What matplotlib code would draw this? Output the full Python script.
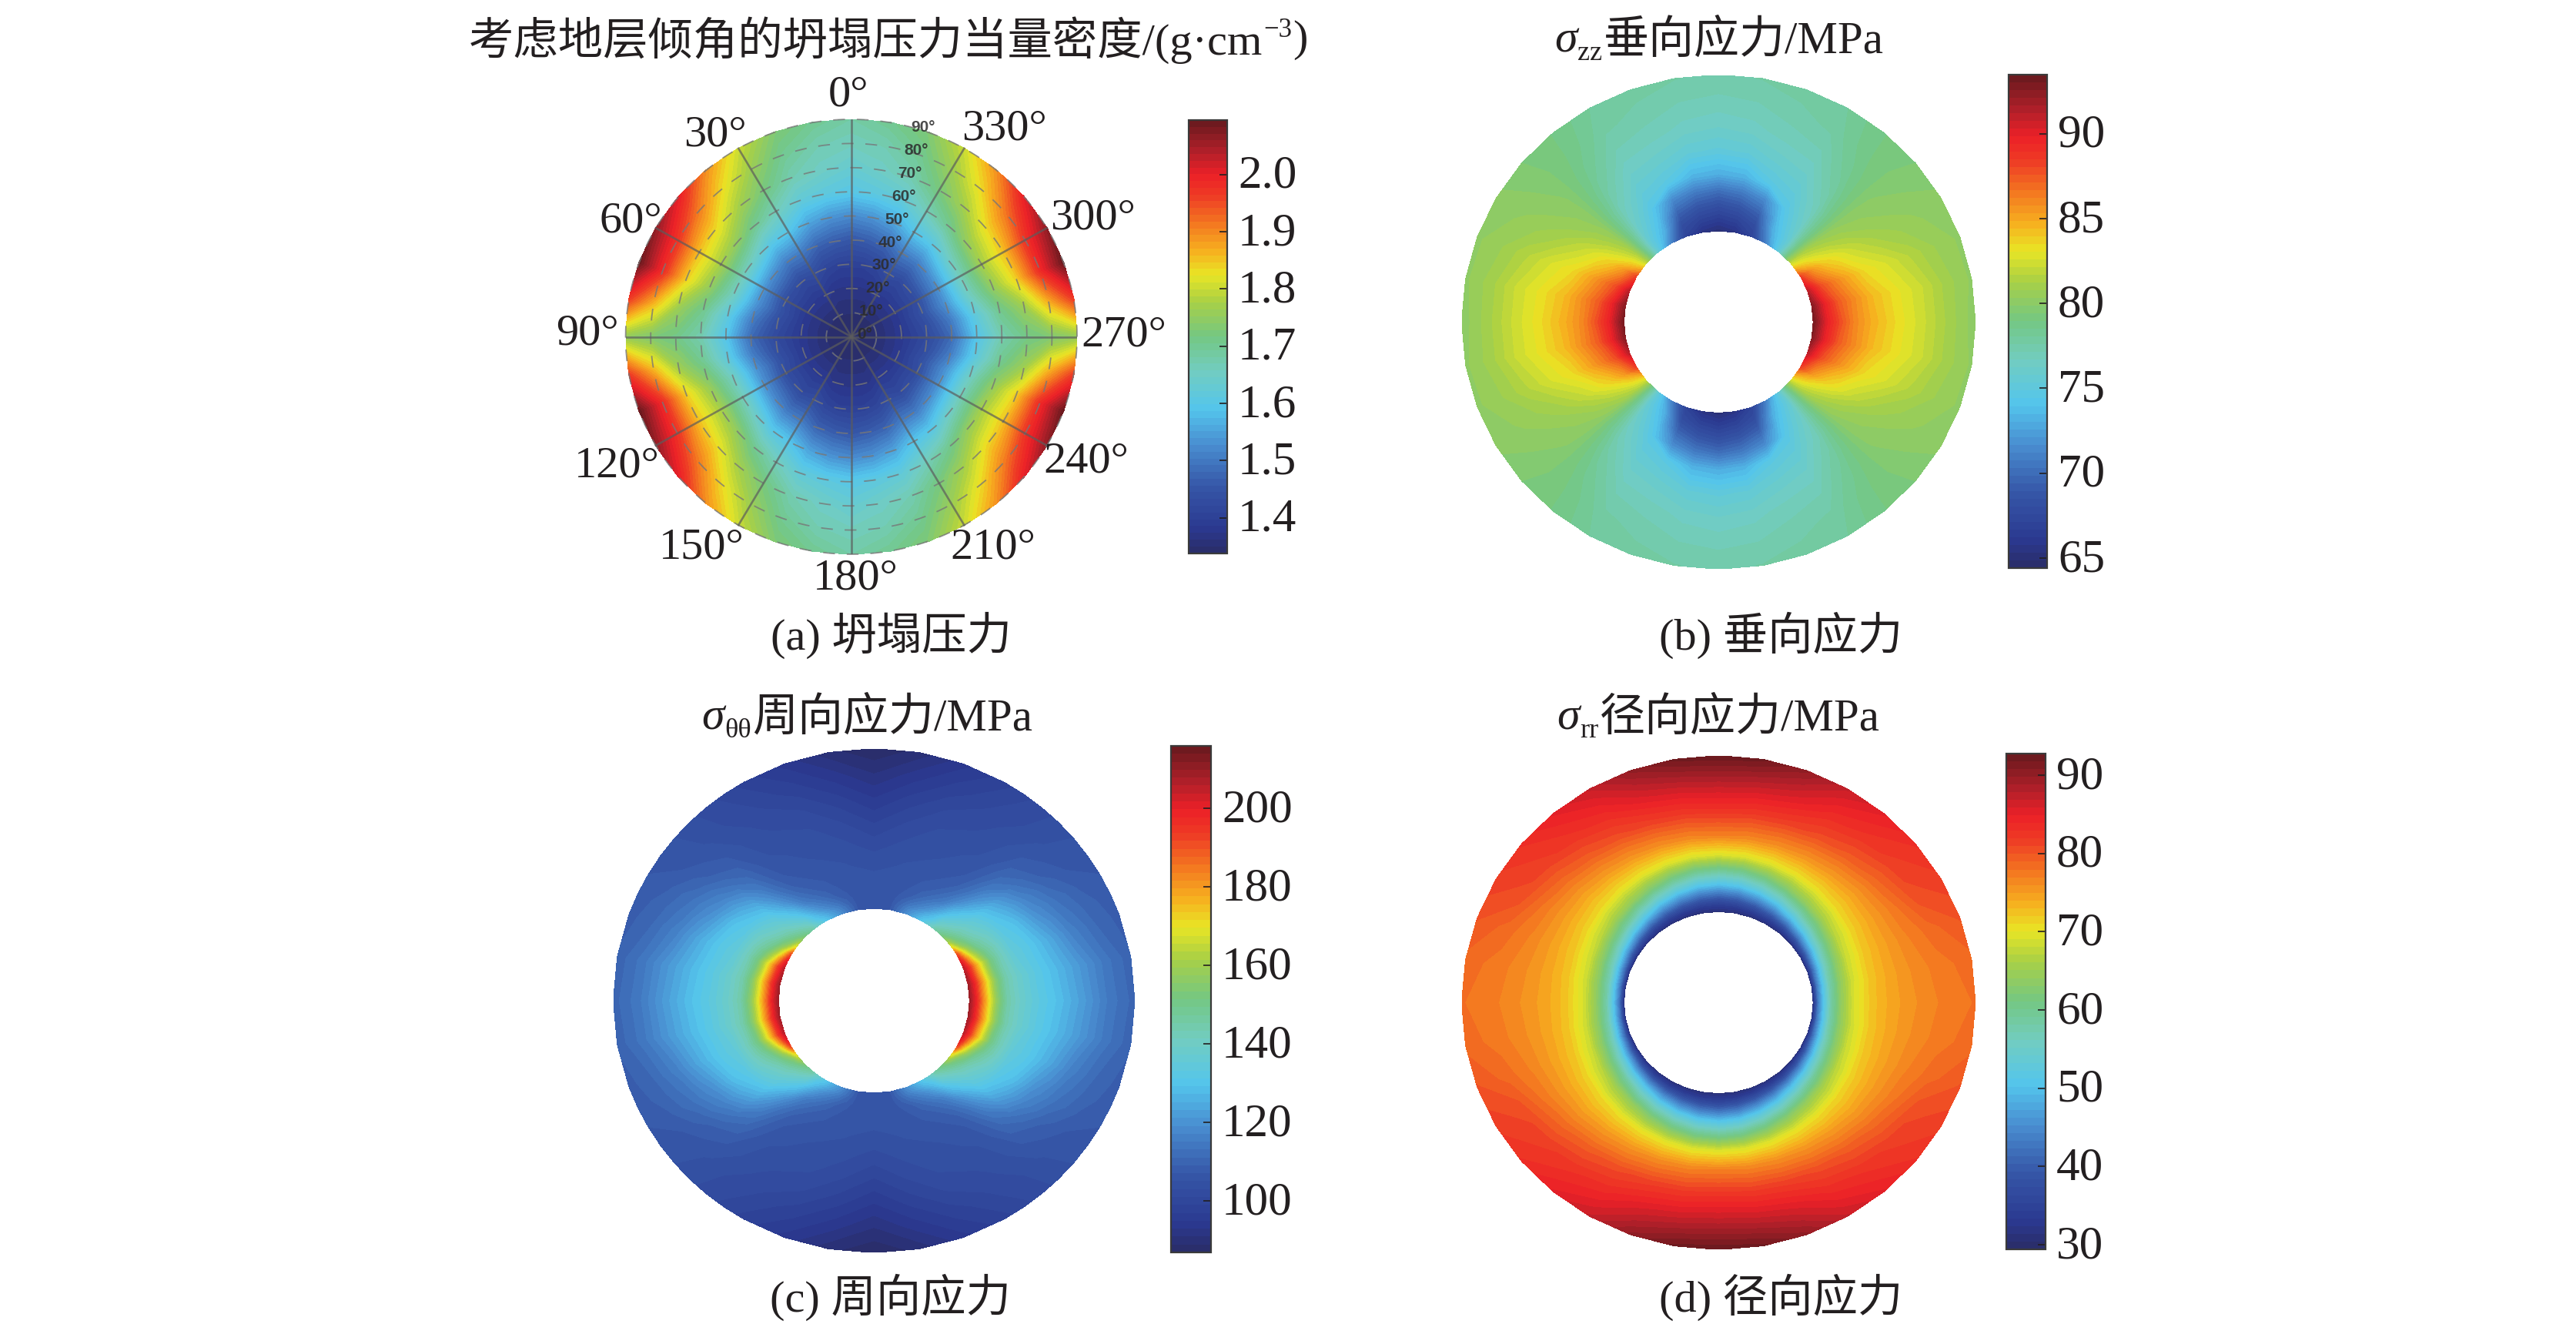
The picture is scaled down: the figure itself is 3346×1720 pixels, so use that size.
import numpy as np
import matplotlib
matplotlib.use("Agg")
import matplotlib.pyplot as plt
from matplotlib.colors import LinearSegmentedColormap
from matplotlib.transforms import ScaledTranslation

W, H = 3346, 1720
FAM = ['Liberation Serif', 'Noto Sans CJK SC', 'DejaVu Sans']
INK = '#231f20'

PHI = [0, 10, 20, 30, 40, 50, 60, 70, 80, 90]   # angle from the vertical axis, degrees
PHI_C = [0, 10, 20, 30, 35, 40, 45, 50, 55, 60, 65, 70, 80, 90]

# (a) collapse pressure equivalent density; columns = inclination 0..90 deg
A_R = [0, 10, 20, 30, 40, 50, 60, 70, 80, 90]
A_V = [
    [1.34, 1.35, 1.37, 1.40, 1.45, 1.52, 1.60, 1.63, 1.66, 1.68],
    [1.34, 1.35, 1.37, 1.40, 1.46, 1.53, 1.61, 1.65, 1.67, 1.70],
    [1.34, 1.35, 1.37, 1.41, 1.47, 1.55, 1.62, 1.67, 1.70, 1.73],
    [1.34, 1.35, 1.38, 1.43, 1.50, 1.59, 1.66, 1.72, 1.76, 1.80],
    [1.34, 1.35, 1.38, 1.42, 1.50, 1.60, 1.70, 1.77, 1.83, 1.89],
    [1.34, 1.35, 1.38, 1.43, 1.52, 1.64, 1.75, 1.83, 1.91, 2.00],
    [1.34, 1.35, 1.38, 1.43, 1.53, 1.66, 1.77, 1.85, 1.97, 2.06],
    [1.34, 1.35, 1.38, 1.44, 1.53, 1.65, 1.75, 1.84, 1.98, 2.09],
    [1.34, 1.35, 1.38, 1.43, 1.50, 1.61, 1.70, 1.76, 1.86, 1.96],
    [1.34, 1.35, 1.38, 1.42, 1.48, 1.59, 1.67, 1.71, 1.73, 1.75],
]
# (b) vertical stress; columns = r / R
B_R = [0.37, 0.42, 0.47, 0.53, 0.60, 0.70, 0.80, 0.90, 1.0]
B_V = [
    [65.0, 66.5, 68.0, 70.0, 73.0, 75.2, 76.3, 77.0, 77.5],
    [65.5, 67.0, 68.5, 70.5, 73.3, 75.4, 76.5, 77.1, 77.6],
    [67.0, 68.0, 69.5, 71.5, 74.7, 76.0, 76.9, 77.4, 77.8],
    [71.0, 73.0, 73.8, 74.5, 75.3, 76.3, 77.1, 77.7, 78.0],
    [75.5, 75.5, 76.0, 76.5, 77.0, 77.8, 78.4, 78.8, 78.9],
    [82.0, 81.5, 81.0, 80.5, 80.2, 80.0, 79.8, 79.6, 79.4],
    [88.0, 85.5, 84.0, 83.0, 82.0, 81.0, 80.5, 80.2, 80.0],
    [91.0, 88.0, 86.5, 85.0, 83.5, 82.5, 81.5, 80.7, 80.2],
    [92.5, 89.7, 87.5, 86.0, 84.5, 83.2, 82.2, 81.0, 80.2],
    [93.0, 90.0, 88.0, 86.0, 84.7, 83.3, 82.2, 81.0, 80.0],
]
# (c) hoop stress
C_R = [0.368, 0.39, 0.415, 0.44, 0.47, 0.51, 0.56, 0.62, 0.70, 0.80, 0.90, 1.0]
C_V = [
    [106, 106, 105.5, 105.3, 105.2, 105, 103.8, 102, 99, 95, 90.8, 87],
    [107, 106.5, 106, 105.7, 105.5, 105.3, 104.8, 103.5, 101.5, 98, 94, 89.5],
    [119, 116, 112, 109, 107.5, 106.5, 105.5, 104.5, 103.5, 101, 97.5, 94],
    [130, 126, 120, 116, 112, 109, 107, 105.5, 104.5, 102.5, 100.5, 98],
    [137, 131, 127, 122, 116, 112, 108.5, 106.5, 105, 103.5, 102, 100],
    [145, 140, 135, 130, 125, 118, 113, 109.5, 107, 105, 103, 102],
    [150, 145, 140, 136, 132, 126, 120, 115, 110.5, 107, 104.5, 103.5],
    [158, 150, 144.5, 141, 137, 133, 127.5, 121, 113.5, 108, 106, 105],
    [170, 156, 150, 144, 140, 136, 130.5, 125, 117, 110.5, 107, 106],
    [190, 170, 157, 149, 144, 139, 132.5, 128.5, 119.5, 113, 108.8, 107],
    [200, 184, 167, 156, 148, 141.5, 134, 130.5, 122.5, 114.5, 110, 107.5],
    [205, 194, 178, 165, 152, 143, 135.5, 132, 125.5, 116.5, 111, 108],
    [208, 199, 184, 170, 156, 144.5, 138.5, 133.5, 128, 121, 114, 109.5],
    [208, 200, 185, 171, 157, 145, 139, 134, 129, 122, 114.5, 110],
]
# (d) radial stress
D_R = [0.37, 0.39, 0.41, 0.44, 0.48, 0.53, 0.60, 0.68, 0.78, 0.88, 1.0]
D_V = [
    [31, 33, 36, 42, 50, 58, 69, 77, 82.5, 87, 92.5],
    [31, 33, 36.5, 42.5, 50.5, 58.5, 69, 76.5, 82, 86.5, 92],
    [31, 33.5, 37.5, 44, 52, 60, 69.5, 76, 81.5, 85.5, 90],
    [31, 34, 39, 46, 54, 62, 70, 75.5, 80.5, 83.5, 87],
    [31, 35, 41, 49, 56.5, 64, 70.5, 75, 79.5, 82.5, 85],
    [31, 37, 43.5, 51.5, 59, 65.5, 71, 74.5, 78.5, 81.5, 83],
    [31, 39, 46, 54, 61, 67, 71.5, 74.5, 77.5, 80.5, 81.5],
    [31, 41, 48, 56, 62.5, 68, 72, 74.5, 76.8, 78.5, 80],
    [31, 42.5, 49.5, 57.5, 63.5, 68.5, 72.3, 74.5, 76.3, 77.5, 78.5],
    [31, 43, 50, 58, 64, 69, 72.5, 74.5, 76, 77.2, 78],
]

A_TICKS = [1.4, 1.5, 1.6, 1.7, 1.8, 1.9, 2.0]
B_TICKS = [65, 70, 75, 80, 85, 90]
C_TICKS = [100, 120, 140, 160, 180, 200]
D_TICKS = [30, 40, 50, 60, 70, 80, 90]
ANGLE_LABELS = ['0°', '30°', '60°', '90°', '120°', '150°', '180°', '210°', '240°', '270°', '300°', '330°']
ANGLE_POS = [(1102, 124), (929, 175), (819, 288), (763, 434), (801, 605), (911, 712),
             (1111, 751), (1290, 712), (1411, 600), (1460, 436), (1420, 284), (1304, 167)]
INCL_LABELS = [0, 10, 20, 30, 40, 50, 60, 70, 80, 90]

cmap = LinearSegmentedColormap.from_list('pub_jet', [
    (0.00, '#2a2e6c'), (0.05, '#2b3990'), (0.15, '#3657a8'), (0.25, '#4a90d2'),
    (0.33, '#54c5ec'), (0.42, '#72cdc0'), (0.50, '#74c783'), (0.58, '#a8d046'),
    (0.645, '#e9e525'), (0.70, '#f6b01f'), (0.76, '#f47c20'), (0.83, '#ee3b25'),
    (0.88, '#ec2027'), (0.93, '#b5202a'), (1.00, '#6e1a1f')], N=64)

fig = plt.figure(figsize=(W / 100, H / 100), dpi=100, facecolor='white')


def box(x0, x1, y0, y1):
    return [x0 / W, 1 - y1 / H, (x1 - x0) / W, (y1 - y0) / H]


def panel(disc, bar, angles, radii, values, vmin, vmax, ticks, fmt):
    ax = fig.add_axes(box(*disc))
    ax.set_xlim(-1, 1)
    ax.set_ylim(-1, 1)
    ax.axis('off')
    v = np.array(values, float)
    rmax = max(radii)
    r = np.array(radii, float) / rmax
    phi = np.array(angles, float)
    # mirror the quarter table round the circle (angle measured from the top)
    ang = np.concatenate([phi, 180 - phi[-2::-1], 180 + phi[1:], 360 - phi[-2::-1]])
    table = np.vstack([v, v[-2::-1], v[1:], v[-2::-1]])
    T, R = np.meshgrid(np.radians(ang), r, indexing='ij')
    X = -R * np.sin(T)
    Y = R * np.cos(T)
    levels = np.linspace(vmin, vmax, 65)
    cf = ax.contourf(X, Y, table, levels=levels, cmap=cmap)
    cf.set_edgecolor('face')
    cf.set_linewidth(0.6)
    cax = fig.add_axes(box(*bar))
    cb = fig.colorbar(cf, cax=cax, ticks=ticks, format=fmt, drawedges=False)
    cb.ax.tick_params(axis='y', direction='in', length=7, width=1.2, color=INK,
                      labelsize=44, pad=10, labelcolor=INK)
    lift = ScaledTranslation(0, 4 / 100, fig.dpi_scale_trans)
    for lab in cb.ax.get_yticklabels():
        lab.set_fontfamily(FAM)
        lab.set_transform(lab.get_transform() + lift)
    cb.outline.set_edgecolor('#3a3a3a')
    cb.outline.set_linewidth(1.6)
    return ax


ax_a = panel((812.6, 1399, 155, 720), (1544, 1594, 156, 718.6), PHI, A_R, A_V, 1.338, 2.095, A_TICKS, '%.1f')
panel((1899, 2565.6, 97.6, 739), (2609, 2659, 96.5, 738), PHI, B_R, B_V, 64.4, 93.5, B_TICKS, '%d')
panel((797, 1473.5, 973, 1627), (1520.5, 1573, 969, 1627), PHI_C, C_R, C_V, 86.8, 216, C_TICKS, '%d')
panel((1899, 2565.6, 982, 1623), (2606, 2657, 978.5, 1623), PHI, D_R, D_V, 29.4, 92.8, D_TICKS, '%d')

# polar grid of panel (a)
t = np.linspace(0, 2 * np.pi, 361)
for inc in A_R[1:]:
    ax_a.plot(inc / 90 * np.cos(t), inc / 90 * np.sin(t), color='#777777', lw=1.3, alpha=0.8,
              dashes=(8.5, 8.5), zorder=5, clip_on=False)
for deg in range(0, 180, 30):
    s, c = np.sin(np.radians(deg)), np.cos(np.radians(deg))
    ax_a.plot([-s, s], [-c, c], color='#5c5c5c', lw=1.9, alpha=0.7, zorder=6)
for inc in INCL_LABELS:
    ax_a.text((17 + inc / 90 * 76) / 293, (3 + inc / 90 * 269) / 283, f'{inc}°', fontsize=15,
              fontweight='bold', family='Liberation Sans', color='#2b2b2b', alpha=0.85,
              ha='center', va='center', zorder=7)

# text layer in image pixels
ov = fig.add_axes([0, 0, 1, 1], zorder=10)
ov.set_xlim(0, W)
ov.set_ylim(H, 0)
ov.axis('off')
ov.patch.set_alpha(0)
renderer = fig.canvas.get_renderer()


def runs(x, y, pieces):
    """Place text pieces one after another: (string, size, style, y offset)."""
    for s, size, style, dy in pieces:
        tx = ov.text(x, y + dy, s, fontsize=size, style=style, family=FAM, color=INK,
                     ha='left', va='center')
        x = tx.get_window_extent(renderer).x1 + 1


for s, (x, y) in zip(ANGLE_LABELS, ANGLE_POS):
    ov.text(x, y, s, fontsize=42, family=FAM, color=INK, ha='center', va='center')

runs(609, 52, [('考虑地层倾角的坍塌压力当量密度/(g·cm', 42, 'normal', 0), ('−3', 25, 'normal', -13), (')', 42, 'normal', 0)])
runs(2019, 54, [('σ', 43, 'italic', 0), ('zz', 26, 'normal', 16), ('垂向应力/MPa', 42.5, 'normal', 0)])
runs(911, 934, [('σ', 43, 'italic', 0), ('θθ', 26, 'normal', 16), ('周向应力/MPa', 42.5, 'normal', 0)])
runs(2022, 934, [('σ', 43, 'italic', 0), ('rr', 26, 'normal', 16), ('径向应力/MPa', 42.5, 'normal', 0)])

runs(1001, 825, [('(a) 坍塌压力', 42, 'normal', 0)])
runs(2155, 825, [('(b) 垂向应力', 42, 'normal', 0)])
runs(1000, 1685, [('(c) 周向应力', 42, 'normal', 0)])
runs(2155, 1685, [('(d) 径向应力', 42, 'normal', 0)])

fig.savefig('out.png', dpi=100, facecolor='white')
